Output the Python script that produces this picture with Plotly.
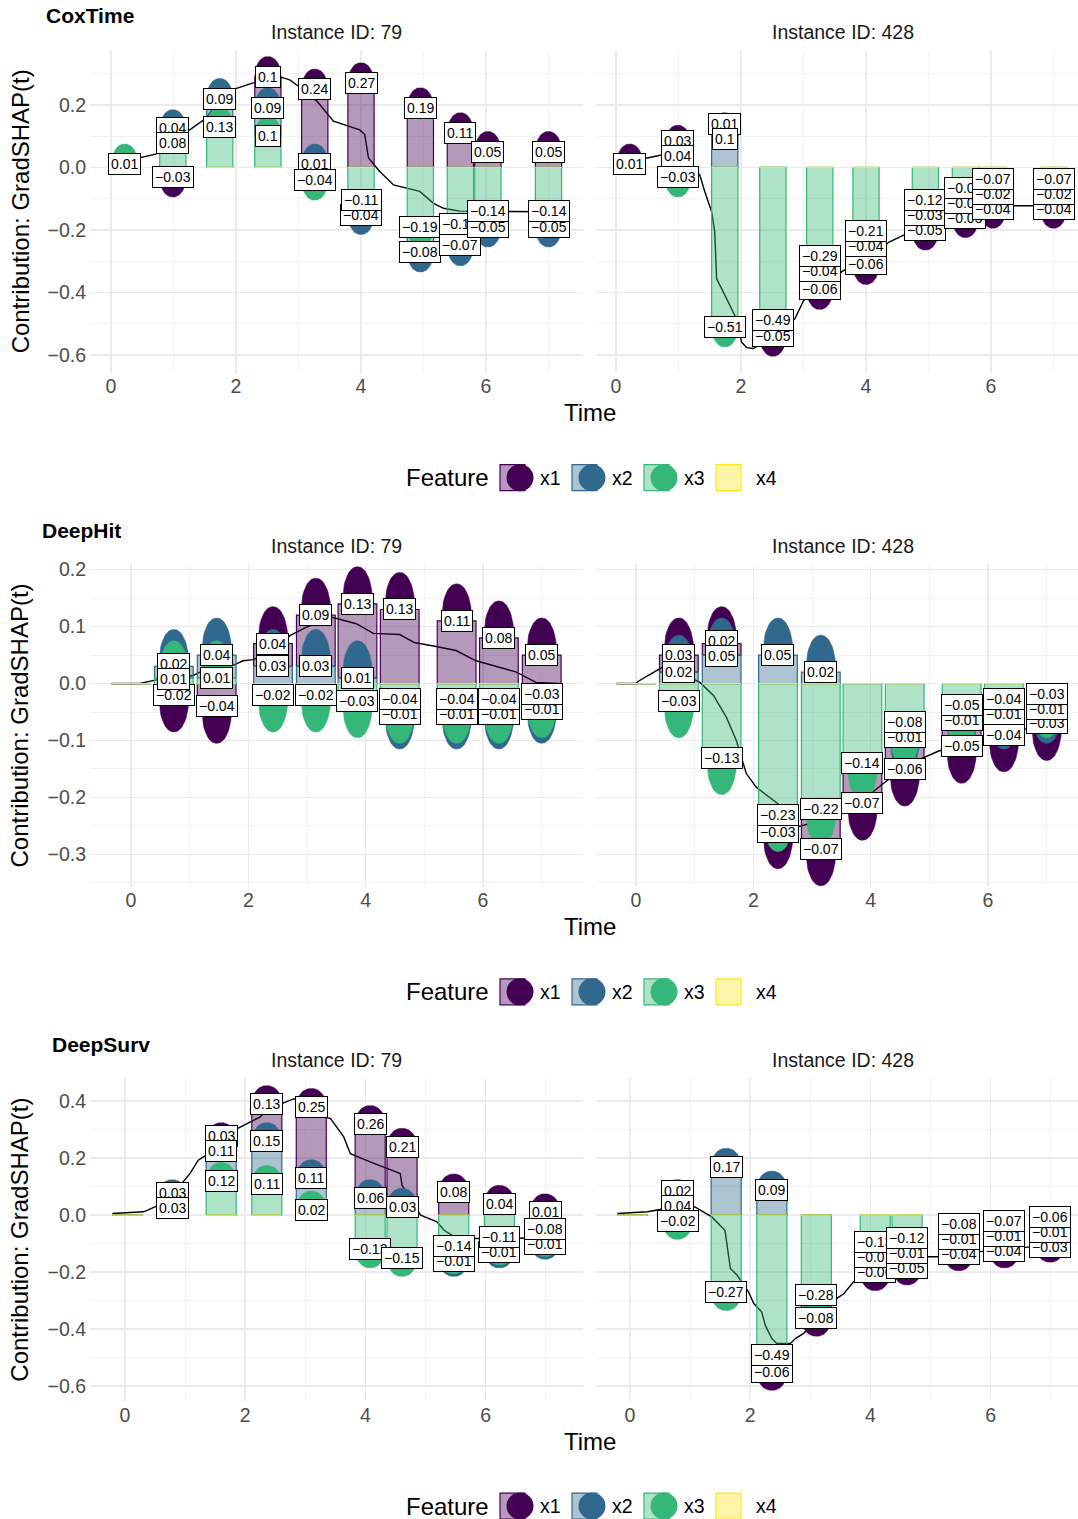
import plotly.graph_objects as go

W, H = 1078, 1519

FEATURES = ["x1", "x2", "x3", "x4"]
FEATURE_COLORS = ["#440154", "#31688E", "#35B779", "#FDE725"]
MODELS = ["CoxTime", "DeepHit", "DeepSurv"]
INSTANCE_IDS = ["79", "428"]

# ---------------- CoxTime ----------------
cox_times = [0.22, 0.99, 1.74, 2.51, 3.26, 4.0, 4.95, 5.59, 6.03, 7.0]
cox79_x1 = [0.0, -0.03, 0.0, 0.10, 0.24, 0.27, 0.19, 0.11, 0.05, 0.05]
cox79_x2 = [0.0, 0.04, 0.09, 0.09, 0.01, -0.04, -0.08, -0.07, -0.05, -0.05]
cox79_x3 = [0.01, 0.08, 0.13, 0.10, -0.04, -0.11, -0.19, -0.18, -0.14, -0.14]
cox79_x4 = [0.0, 0.0, 0.0, 0.0, 0.0, 0.0, 0.0, 0.0, 0.0, 0.0]
cox79_line_t = [0.01, 0.49, 0.73, 0.99, 1.26, 1.53, 1.74, 1.96, 2.3, 2.52, 2.73, 2.86, 3.0, 3.29,
                3.4, 3.56, 3.98, 4.06, 4.12, 4.3, 4.52, 4.94, 5.16, 5.32, 5.58, 6.03, 6.28, 6.75, 7.0]
cox79_line_v = [0.01, 0.032, 0.043, 0.09, 0.12, 0.159, 0.22, 0.25, 0.272, 0.29, 0.288, 0.28, 0.26, 0.213,
                0.187, 0.148, 0.12, 0.105, 0.03, -0.013, -0.056, -0.077, -0.115, -0.131, -0.14, -0.14,
                -0.142, -0.142, -0.142]

cox428_x1 = [0.01, 0.03, 0.01, -0.05, -0.06, -0.06, -0.05, -0.05, -0.04, -0.04]
cox428_x2 = [0.0, 0.04, 0.10, 0.0, -0.04, -0.04, -0.03, -0.02, -0.02, -0.02]
cox428_x3 = [0.0, -0.03, -0.51, -0.49, -0.29, -0.21, -0.12, -0.09, -0.07, -0.07]
cox428_x4 = [0.0, 0.0, 0.0, 0.0, 0.0, 0.0, 0.0, 0.0, 0.0, 0.0]
cox428_line_t = [0.01, 0.5, 0.71, 0.99, 1.34, 1.42, 1.53, 1.58, 1.6, 1.61, 1.72, 1.82, 1.93, 2.01,
                 2.09, 2.2, 2.51, 2.86, 3.0, 3.26, 3.64, 4.0, 4.36, 4.62, 4.95, 5.59, 6.03, 6.38, 6.68, 7.0]
cox428_line_v = [0.01, 0.032, 0.039, 0.04, -0.024, -0.077, -0.142, -0.206, -0.28, -0.357, -0.40, -0.44,
                 -0.486, -0.56, -0.577, -0.58, -0.54, -0.486, -0.427, -0.39, -0.33, -0.31, -0.24, -0.215,
                 -0.20, -0.16, -0.13, -0.123, -0.123, -0.13]

# ---------------- DeepHit ----------------
dh_times = [0.0, 0.73, 1.46, 2.42, 3.15, 3.86, 4.58, 5.55, 6.27, 7.0]
dh79_x1 = [0.0, -0.02, -0.04, 0.04, 0.09, 0.13, 0.13, 0.11, 0.08, 0.05]
dh79_x2 = [0.0, 0.02, 0.04, 0.03, 0.03, 0.01, -0.01, -0.01, -0.01, -0.01]
dh79_x3 = [0.0, 0.01, 0.01, -0.02, -0.02, -0.03, -0.04, -0.04, -0.04, -0.03]
dh79_x4 = [0.0, 0.0, 0.0, 0.0, 0.0, 0.0, 0.0, 0.0, 0.0, 0.0]
dh79_line_t = [-0.33, 0.15, 0.41, 0.73, 1.06, 1.17, 1.46, 1.74, 1.91, 2.08, 2.42, 2.71, 2.99, 3.27,
               3.44, 3.84, 4.13, 4.58, 4.83, 5.2, 5.54, 5.88, 6.11, 6.57, 6.9, 7.3]
dh79_line_v = [0.0, 0.0, 0.006, 0.01, 0.014, 0.02, 0.026, 0.032, 0.04, 0.042, 0.055, 0.084, 0.099, 0.11,
               0.116, 0.105, 0.088, 0.086, 0.072, 0.065, 0.058, 0.04, 0.033, 0.02, 0.002, 0.0]

dh428_x1 = [0.0, 0.03, 0.02, -0.03, -0.07, -0.07, -0.06, -0.05, -0.04, -0.03]
dh428_x2 = [0.0, 0.02, 0.05, 0.05, 0.02, 0.0, -0.01, -0.01, -0.01, -0.01]
dh428_x3 = [0.0, -0.03, -0.13, -0.23, -0.22, -0.14, -0.08, -0.05, -0.04, -0.03]
dh428_x4 = [0.0, 0.0, 0.0, 0.0, 0.0, 0.0, 0.0, 0.0, 0.0, 0.0]
dh428_line_t = [-0.33, 0.0, 0.04, 0.44, 0.73, 1.09, 1.32, 1.54, 1.71, 1.88, 2.05, 2.42, 2.79, 3.14,
                3.53, 3.86, 4.04, 4.21, 4.66, 5.17, 5.55, 5.91, 6.27, 6.62, 7.0, 7.3]
dh428_line_v = [0.0, 0.0, 0.004, 0.028, 0.02, 0.002, -0.021, -0.059, -0.1, -0.158, -0.182, -0.211,
                -0.251, -0.24, -0.222, -0.205, -0.19, -0.176, -0.141, -0.118, -0.11, -0.094, -0.088,
                -0.08, -0.075, -0.072]

# ---------------- DeepSurv ----------------
ds_times = [0.04, 0.79, 1.6, 2.36, 3.1, 4.08, 4.61, 5.47, 6.23, 6.99]
ds79_x1 = [0.0, 0.0, 0.03, 0.13, 0.25, 0.26, 0.21, 0.08, 0.04, 0.01]
ds79_x2 = [0.0, 0.03, 0.11, 0.15, 0.11, 0.06, 0.03, -0.01, -0.01, -0.01]
ds79_x3 = [0.0, 0.03, 0.12, 0.11, 0.02, -0.12, -0.15, -0.14, -0.11, -0.08]
ds79_x4 = [0.0, 0.0, 0.0, 0.0, 0.0, 0.0, 0.0, 0.0, 0.0, 0.0]
ds79_line_t = [-0.21, 0.31, 0.5, 0.79, 0.92, 1.08, 1.22, 1.39, 1.6, 1.81, 2.14, 2.25, 2.36, 2.67, 2.81,
               3.0, 3.19, 3.42, 3.64, 3.75, 4.08, 4.58, 4.61, 4.92, 5.19, 5.31, 5.53, 5.89, 6.23, 6.58, 7.0]
ds79_line_v = [0.006, 0.012, 0.029, 0.06, 0.105, 0.146, 0.193, 0.216, 0.26, 0.298, 0.333, 0.345, 0.37,
               0.398, 0.409, 0.395, 0.353, 0.339, 0.275, 0.216, 0.187, 0.146, 0.105, 0.0, -0.023, -0.053,
               -0.082, -0.082, -0.082, -0.082, -0.08]

ds428_x1 = [0.0, 0.02, 0.0, -0.06, -0.08, -0.06, -0.05, -0.04, -0.04, -0.03]
ds428_x2 = [0.0, 0.04, 0.17, 0.09, 0.0, -0.01, -0.01, -0.01, -0.01, -0.01]
ds428_x3 = [0.0, -0.02, -0.27, -0.49, -0.28, -0.13, -0.12, -0.08, -0.07, -0.06]
ds428_x4 = [0.0, 0.0, 0.0, 0.0, 0.0, 0.0, 0.0, 0.0, 0.0, 0.0]
ds428_line_t = [-0.21, 0.29, 0.5, 0.79, 1.08, 1.22, 1.36, 1.58, 1.64, 1.67, 1.78, 1.97, 2.06, 2.19,
                2.25, 2.36, 2.44, 2.67, 2.75, 2.89, 3.11, 3.36, 3.56, 3.72, 4.07, 4.62, 4.97, 5.11,
                5.47, 5.83, 6.23, 6.58, 6.95]
ds428_line_v = [0.006, 0.012, 0.02, 0.035, 0.029, 0.012, -0.006, -0.053, -0.14, -0.187, -0.21, -0.269,
                -0.31, -0.339, -0.386, -0.433, -0.45, -0.45, -0.433, -0.415, -0.36, -0.304, -0.275,
                -0.234, -0.2, -0.17, -0.146, -0.146, -0.135, -0.129, -0.12, -0.113, -0.105]

PANELS = {
    ("CoxTime", "79"): (cox_times, [cox79_x1, cox79_x2, cox79_x3, cox79_x4], cox79_line_t, cox79_line_v),
    ("CoxTime", "428"): (cox_times, [cox428_x1, cox428_x2, cox428_x3, cox428_x4], cox428_line_t, cox428_line_v),
    ("DeepHit", "79"): (dh_times, [dh79_x1, dh79_x2, dh79_x3, dh79_x4], dh79_line_t, dh79_line_v),
    ("DeepHit", "428"): (dh_times, [dh428_x1, dh428_x2, dh428_x3, dh428_x4], dh428_line_t, dh428_line_v),
    ("DeepSurv", "79"): (ds_times, [ds79_x1, ds79_x2, ds79_x3, ds79_x4], ds79_line_t, ds79_line_v),
    ("DeepSurv", "428"): (ds_times, [ds428_x1, ds428_x2, ds428_x3, ds428_x4], ds428_line_t, ds428_line_v),
}

# ---------------- geometry / style ----------------
FONT = "Liberation Sans, Arial, Helvetica, sans-serif"
SEC = 514.5
PANEL_TOP, PANEL_BOT = 49.0, 372.0
PANEL_X = [(90.0, 583.0), (596.0, 1078.0)]
Y_RANGE = {"CoxTime": (-0.6576, 0.376), "DeepHit": (-0.357, 0.2096), "DeepSurv": (-0.6526, 0.4807)}
X_RANGE = {"CoxTime": [(-0.336, 7.552), (-0.32, 7.392)],
           "DeepHit": [(-0.699, 7.704), (-0.682, 7.534)],
           "DeepSurv": [(-0.582, 7.621), (-0.566, 7.454)]}
Y_DTICK = {"CoxTime": 0.2, "DeepHit": 0.1, "DeepSurv": 0.2}
BAR_W = {"CoxTime": 0.42, "DeepHit": 0.66, "DeepSurv": 0.5}
CAP_W = {"CoxTime": 0.42, "DeepHit": 0.52, "DeepSurv": 0.5}
CAP_H = 0.065
TITLE_X = {"CoxTime": 44, "DeepHit": 40, "DeepSurv": 50}
LABEL_SEP_PX = 15.0
UP_BIAS = 0.75
# vertical compensation of the capture (content was seen ~5 px low at the top)
Y_SCALE, Y_SHIFT = 0.9967, 5.0


def rgba(hexc, a):
    hexc = hexc.lstrip("#")
    r, g, b = int(hexc[0:2], 16), int(hexc[2:4], 16), int(hexc[4:6], 16)
    return f"rgba({r},{g},{b},{a})"


def fmt(v):
    s = f"{abs(v):.2f}".rstrip("0")
    if s.endswith("."):
        s += "0"
    return ("\u2212" if v < 0 else "") + s


def px(x):
    return x / W


def py(y):
    y_in = (y - Y_SHIFT) / Y_SCALE
    return 1 - y_in / H


fig = go.Figure()
annotations = []
shapes = []
layout_axes = {}

for s, model in enumerate(MODELS):
    top = PANEL_TOP + SEC * s
    bot = PANEL_BOT + SEC * s
    ymin, ymax = Y_RANGE[model]
    ppu_y = (bot - top) / (ymax - ymin)
    bw = BAR_W[model]
    cw = CAP_W[model]
    for j, inst in enumerate(INSTANCE_IDS):
        p = s * 2 + j + 1
        xa = "x" if p == 1 else f"x{p}"
        ya = "y" if p == 1 else f"y{p}"
        x0p, x1p = PANEL_X[j]
        layout_axes["xaxis" if p == 1 else f"xaxis{p}"] = dict(
            domain=[px(x0p), px(x1p)], range=list(X_RANGE[model][j]), anchor=ya,
            dtick=2, tick0=0, showgrid=True, gridcolor="#EBEBEB", gridwidth=1.6,
            minor=dict(dtick=1, tick0=0, showgrid=True, gridcolor="#F1F1F1", gridwidth=0.9),
            zeroline=False, showline=False, ticks="",
            tickfont=dict(family=FONT, size=19.5, color="#4D4D4D"), fixedrange=True)
        layout_axes["yaxis" if p == 1 else f"yaxis{p}"] = dict(
            domain=[py(bot), py(top)], range=[ymin, ymax], anchor=xa,
            dtick=Y_DTICK[model], tick0=0, tickformat=".1f", showgrid=True,
            gridcolor="#EBEBEB", gridwidth=1.6,
            minor=dict(dtick=Y_DTICK[model] / 2, tick0=0, showgrid=True, gridcolor="#F1F1F1", gridwidth=0.9),
            zeroline=False, showline=False, ticks="", showticklabels=(j == 0),
            ticklabelstandoff=3,
            tickfont=dict(family=FONT, size=19.5, color="#4D4D4D"), fixedrange=True)

        times, vals, lt, lv = PANELS[(model, inst)]

        # sum line (under bars)
        fig.add_trace(go.Scatter(x=lt, y=lv, mode="lines", line=dict(color="black", width=1.4),
                                 xaxis=xa, yaxis=ya, hoverinfo="skip", showlegend=False))

        # stacking
        rects = {f: [] for f in range(4)}
        caps = {f: [] for f in range(4)}
        labels = []
        for i, t in enumerate(times):
            pos_base, neg_base = 0.0, 0.0
            bar_labels = []
            for f in [3, 2, 1, 0]:
                v = vals[f][i]
                if v >= 0:
                    y0, y1 = pos_base, pos_base + v
                    pos_base = y1
                else:
                    y0, y1 = neg_base, neg_base + v
                    neg_base = y1
                rects[f].append((t, y0, y1))
                if abs(v) >= 0.005:
                    caps[f].append((t, y1, 1 if v > 0 else -1))
                    bar_labels.append([f, y1, v])
            labels.append((t, bar_labels))

        # bars
        for f in range(4):
            xs, ys = [], []
            for (t, y0, y1) in rects[f]:
                xs += [t - bw / 2, t + bw / 2, t + bw / 2, t - bw / 2, t - bw / 2, None]
                ys += [y0, y0, y1, y1, y0, None]
            fig.add_trace(go.Scatter(x=xs, y=ys, mode="lines", fill="toself",
                                     fillcolor=rgba(FEATURE_COLORS[f], 0.4),
                                     line=dict(color=FEATURE_COLORS[f], width=1.2),
                                     xaxis=xa, yaxis=ya, hoverinfo="skip", showlegend=False))

        # caps (rounded bullet at the end of every non-zero segment)
        N = 30
        for f in range(4):
            if not caps[f]:
                continue
            xs, ys = [], []
            for (t, end, sg) in caps[f]:
                for k in range(N + 1):
                    u = -1 + 2 * k / N
                    xs.append(t + u * cw / 2)
                    ys.append(end + sg * CAP_H * (1 - abs(u) ** 2.2) ** 0.5)
                xs += [t - cw / 2, None]
                ys += [end, None]
            fig.add_trace(go.Scatter(x=xs, y=ys, mode="lines", fill="toself",
                                     fillcolor=FEATURE_COLORS[f],
                                     line=dict(color=FEATURE_COLORS[f], width=0.5),
                                     xaxis=xa, yaxis=ya, hoverinfo="skip", showlegend=False))

        # labels with a simple vertical repel inside each bar
        sep = LABEL_SEP_PX / ppu_y
        for (t, bl) in labels:
            ys_l = [b[1] for b in bl]
            n = len(ys_l)
            for _ in range(400):
                for a in range(n):
                    for b in range(a + 1, n):
                        d = ys_l[b] - ys_l[a]
                        if abs(d) < sep:
                            push = (sep - abs(d)) * 0.5
                            if d == 0:
                                d = 1e-9 if bl[b][2] > 0 else -1e-9
                            hi, lo = (b, a) if d > 0 else (a, b)
                            ys_l[hi] += push * UP_BIAS
                            ys_l[lo] -= push * (1 - UP_BIAS)
            order = sorted(range(n), key=lambda k: bl[k][0])
            for k in order:
                annotations.append(dict(
                    x=t, y=ys_l[k], xref=xa, yref=ya, text=fmt(bl[k][2]), showarrow=False,
                    font=dict(family=FONT, size=14, color="black"), bgcolor="white",
                    bordercolor="black", borderwidth=1, borderpad=2,
                    xanchor="center", yanchor="middle"))

        # strip title
        annotations.append(dict(x=px(x0p + 246.5), y=py(31 + SEC * s), xref="paper", yref="paper",
                                text=f"Instance ID: {inst}", showarrow=False,
                                font=dict(family=FONT, size=19.5, color="#1A1A1A"),
                                xanchor="center", yanchor="middle"))

    # model title
    annotations.append(dict(x=px(TITLE_X[model]), y=py(15 + SEC * s), xref="paper", yref="paper",
                            text=f"<b>{model}</b>", showarrow=False,
                            font=dict(family=FONT, size=21, color="black"),
                            xanchor="left", yanchor="middle"))
    # y axis title
    annotations.append(dict(x=px(20), y=py((PANEL_TOP + PANEL_BOT) / 2 + SEC * s), xref="paper", yref="paper",
                            text="Contribution: GradSHAP(t)", textangle=-90, showarrow=False,
                            font=dict(family=FONT, size=24, color="black"),
                            xanchor="center", yanchor="middle"))
    # x axis title
    annotations.append(dict(x=px(589.5), y=py(412 + SEC * s), xref="paper", yref="paper",
                            text="Time", showarrow=False,
                            font=dict(family=FONT, size=24, color="black"),
                            xanchor="center", yanchor="middle"))
    # legend
    ly = 477 + SEC * s
    annotations.append(dict(x=px(404), y=py(ly), xref="paper", yref="paper", text="Feature",
                            showarrow=False, font=dict(family=FONT, size=24, color="black"),
                            xanchor="left", yanchor="middle"))
    for f in range(4):
        L = 500 + 72 * f
        shapes.append(dict(type="rect", xref="paper", yref="paper",
                           x0=px(L), x1=px(L + 25), y0=py(ly + 13), y1=py(ly - 13),
                           fillcolor=rgba(FEATURE_COLORS[f], 0.4),
                           line=dict(color=FEATURE_COLORS[f], width=1.2)))
        if f < 3:
            shapes.append(dict(type="circle", xref="paper", yref="paper",
                               x0=px(L + 6.5), x1=px(L + 33.5), y0=py(ly + 13.5), y1=py(ly - 13.5),
                               fillcolor=FEATURE_COLORS[f], line=dict(color=FEATURE_COLORS[f], width=0)))
        annotations.append(dict(x=px(L + 38), y=py(ly), xref="paper", yref="paper", text=FEATURES[f],
                                showarrow=False, font=dict(family=FONT, size=19.5, color="black"),
                                xanchor="left", yanchor="middle"))

fig.update_layout(width=W, height=H, margin=dict(l=0, r=0, t=0, b=0),
                  paper_bgcolor="white", plot_bgcolor="white", showlegend=False,
                  font=dict(family=FONT), annotations=annotations, shapes=shapes, **layout_axes)

fig.write_html(
    "out.html",
    config={"displayModeBar": False, "staticPlot": True},
    post_script=("document.body.style.margin='0';document.body.style.overflow='hidden';"
                 "var gd=document.querySelector('.plotly-graph-div');"
                 "gd.style.position='absolute';gd.style.top='0px';gd.style.left='0px';"),
)
